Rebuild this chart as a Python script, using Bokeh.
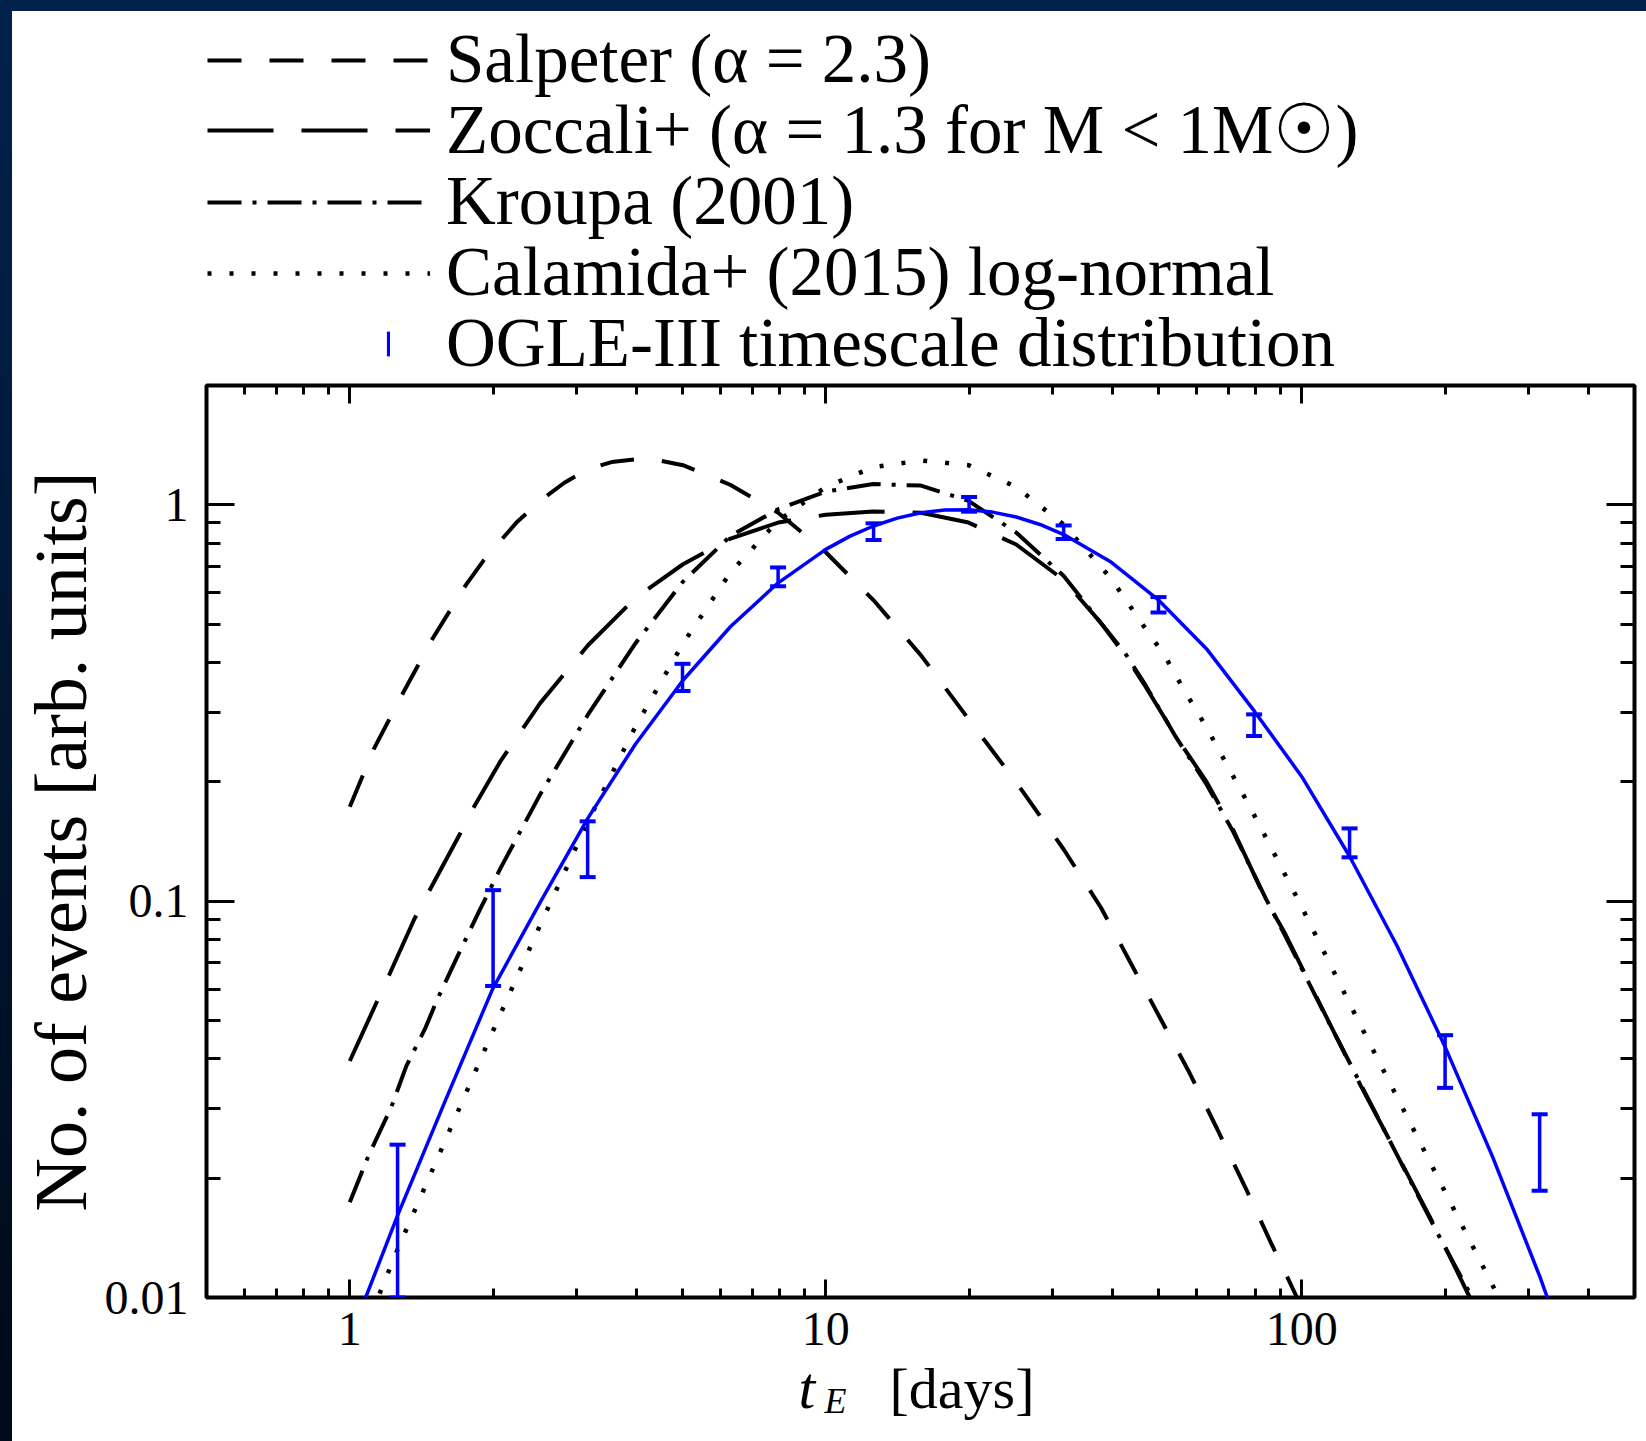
from bokeh.plotting import figure
from bokeh.models import (ColumnDataSource, Legend, LegendItem, LogAxis, FixedTicker,
                          PrintfTickFormatter, Label)
from bokeh.layouts import column
from bokeh.core.properties import value
from bokeh.embed import file_html
from bokeh.resources import INLINE

# ---------------- data ----------------
salp_t = [1.0, 1.122, 1.297, 1.493, 1.754, 1.914, 2.239, 2.512, 2.818, 3.162, 3.548, 3.981, 4.467,
          5.012, 6.31, 7.943, 10.0, 12.59, 15.85, 19.95, 25.12, 31.62, 37.84, 43.65, 50.35, 58.08,
          66.53, 76.03, 86.3, 97.7]
salp_v = [0.173, 0.2415, 0.337, 0.460, 0.628, 0.726, 0.902, 1.023, 1.135, 1.230, 1.282, 1.303, 1.294,
          1.259, 1.122, 0.955, 0.759, 0.575, 0.417, 0.288, 0.1995, 0.135, 0.0964, 0.0700, 0.0508,
          0.0369, 0.0265, 0.0190, 0.01368, 0.0100]

zocc_t = [1.0, 1.135, 1.211, 1.365, 1.469, 1.698, 1.824, 2.075, 2.512, 3.162, 3.981, 5.012, 6.31,
          7.943, 10.0, 12.59, 15.85, 19.95, 25.12, 31.62, 37.84, 42.56, 46.67, 54.33, 63.1, 71.78,
          84.14, 91.62, 112.2, 132.7, 158.5, 195.4, 225.4]
zocc_v = [0.0395, 0.0551, 0.0653, 0.0899, 0.1062, 0.1466, 0.173, 0.226, 0.316, 0.4416, 0.582, 0.708,
          0.822, 0.902, 0.944, 0.962, 0.955, 0.902, 0.794, 0.646, 0.5035, 0.417, 0.352, 0.261, 0.200,
          0.151, 0.1005, 0.0841, 0.0515, 0.0344, 0.0230, 0.01422, 0.0100]

krou_t = [1.0, 1.094, 1.222, 1.315, 1.442, 1.524, 1.673, 1.871, 2.075, 2.512, 3.162, 3.981, 5.012,
          6.31, 7.943, 10.0, 12.59, 15.85, 19.95, 25.12, 31.62, 37.84, 42.56, 46.67, 54.33, 63.1,
          71.78, 84.14, 91.62, 112.2, 132.7, 158.5, 195.4, 228.0]
krou_v = [0.01738, 0.02275, 0.0302, 0.0384, 0.0479, 0.0562, 0.0714, 0.0945, 0.1213, 0.186, 0.295,
          0.447, 0.640, 0.835, 0.975, 1.080, 1.128, 1.118, 1.023, 0.851, 0.661, 0.5035, 0.422, 0.355,
          0.260, 0.197, 0.1496, 0.1012, 0.0832, 0.0513, 0.0347, 0.0229, 0.0141, 0.0100]

cala_t = [1.155, 1.259, 1.585, 1.995, 2.512, 3.162, 3.981, 5.012, 6.31, 7.943, 10.0, 12.59, 15.85,
          19.95, 25.12, 31.62, 39.81, 47.86, 51.23, 56.62, 63.24, 69.9, 77.39, 85.62, 98.86, 114.0,
          131.5, 167.6, 213.3, 258.0]
cala_v = [0.01023, 0.01318, 0.0248, 0.0468, 0.0871, 0.1585, 0.2754, 0.4467, 0.676, 0.912, 1.109,
          1.245, 1.294, 1.259, 1.109, 0.891, 0.650, 0.471, 0.421, 0.3406, 0.2729, 0.2188, 0.175,
          0.1387, 0.0993, 0.0703, 0.0498, 0.0281, 0.01585, 0.01012]

fit_t = [1.08, 1.259, 1.585, 1.995, 2.512, 3.162, 3.981, 5.012, 6.31, 7.943, 10.0, 11.22, 12.59,
         14.13, 15.85, 17.78, 19.95, 22.39, 25.12, 28.18, 31.62, 39.81, 50.12, 63.1, 79.43, 100.0,
         125.9, 158.5, 199.5, 251.2, 316.2, 328.0]
fit_v = [0.0100, 0.01607, 0.03126, 0.0600, 0.0993, 0.1618, 0.2489, 0.3609, 0.4932, 0.6356, 0.7719,
         0.8325, 0.8841, 0.9256, 0.9546, 0.9701, 0.9716, 0.9585, 0.9317, 0.8921, 0.8415, 0.7160,
         0.5737, 0.4329, 0.3020, 0.2061, 0.1300, 0.0772, 0.0432, 0.02277, 0.0113, 0.0100]

ogle_t = [1.26, 2.0, 3.16, 5.0, 7.94, 12.6, 20.0, 31.6, 50.0, 79.4, 126, 200, 316]
ogle_lo = [0.0100, 0.0611, 0.115, 0.339, 0.623, 0.815, 0.961, 0.820, 0.535, 0.261, 0.129, 0.0338, 0.0186]
ogle_hi = [0.0243, 0.1066, 0.159, 0.397, 0.695, 0.898, 1.046, 0.887, 0.585, 0.296, 0.1526, 0.0459, 0.0290]

labels = ["Salpeter (\u03b1 = 2.3)",
          "Zoccali+ (\u03b1 = 1.3 for M < 1M\u2609)",
          "Kroupa (2001)",
          "Calamida+ (2015) log-normal",
          "OGLE-III timescale distribution"]

x_major = [1, 10, 100]
x_minor = [0.5, 0.6, 0.7, 0.8, 0.9, 2, 3, 4, 5, 6, 7, 8, 9, 20, 30, 40, 50, 60, 70, 80, 90,
           200, 300, 400, 500]
y_major = [0.01, 0.1, 1]
y_minor = [0.02, 0.03, 0.04, 0.05, 0.06, 0.07, 0.08, 0.09, 0.2, 0.3, 0.4, 0.5, 0.6, 0.7, 0.8, 0.9, 2]

SERIF = "Liberation Serif"
BLUE = "#0000ff"

STYLE_SALP = dict(line_color="black", line_width=4, line_dash="34 28")
STYLE_ZOCC = dict(line_color="black", line_width=4, line_dash="66 28")
STYLE_KROU = dict(line_color="black", line_width=4, line_dash="34 11 4 11")
STYLE_CALA = dict(line_color="black", line_width=4.5, line_dash="4 18")

LEFT_B, RIGHT_B, FRAME_W = 194, 12, 1428


def blank_strip(frame_height, margin, styles=None):
    # transparent strip sharing the horizontal layout of the main plot; its data ranges
    # keep the legend-only glyphs out of view
    f = figure(frame_width=FRAME_W, frame_height=frame_height, x_range=(-3, -2), y_range=(-3, -2),
               output_backend="svg", toolbar_location=None,
               min_border_left=LEFT_B, min_border_right=RIGHT_B, min_border_top=0,
               min_border_bottom=0, x_axis_location=None, y_axis_location=None, margin=margin,
               background_fill_alpha=0, border_fill_alpha=0, outline_line_color=None,
               styles=styles or {})
    f.grid.visible = False
    return f


# ---------------- legend strip (above the plot box) ----------------
leg_fig = blank_strip(370, (11, 0, 0, 12))
g_salp = leg_fig.line(salp_t, salp_v, **STYLE_SALP)
g_zocc = leg_fig.line(zocc_t, zocc_v, **STYLE_ZOCC)
g_krou = leg_fig.line(krou_t, krou_v, **STYLE_KROU)
g_cala = leg_fig.line(cala_t, cala_v, **STYLE_CALA)
g_ogle = leg_fig.rect(x=ogle_t, y=ogle_hi, width=4, height=31, width_units="screen",
                      height_units="screen", fill_color=BLUE, line_color=None)

leg_rows = [(labels[0], g_salp, 1, 282, 223, 20, 16),
            (labels[1], g_zocc, 1, 211, 223, 20, 16),
            (labels[2], g_krou, 1, 140, 223, 20, 16),
            (labels[3], g_cala, 1, 69, 223, 20, 16),
            (labels[4], g_ogle, 180, -2, 4, 31, 56)]
for text, rend, vx, vy, gw, gh, stand in leg_rows:
    leg_fig.add_layout(Legend(items=[LegendItem(label=value(text), renderers=[rend])],
                              location=(vx, vy), glyph_width=gw, glyph_height=gh,
                              label_standoff=stand, padding=0, margin=0, spacing=0,
                              border_line_color=None, background_fill_alpha=0,
                              label_text_font=SERIF, label_text_font_size="69px",
                              label_text_color="black", label_height=20))

# ---------------- main plot ----------------
fig = figure(frame_width=FRAME_W, frame_height=912, x_axis_type="log", y_axis_type="log",
             x_range=(0.5, 500), y_range=(0.01, 2), output_backend="svg", toolbar_location=None,
             min_border_left=LEFT_B, min_border_top=4, min_border_right=RIGHT_B,
             min_border_bottom=71, background_fill_color="white", border_fill_color="white",
             margin=(0, 0, 0, 12))
fig.grid.visible = False
fig.outline_line_color = "black"
fig.outline_line_width = 4

top_ax = LogAxis()
right_ax = LogAxis()
fig.add_layout(top_ax, "above")
fig.add_layout(right_ax, "right")
bottom_ax = fig.below[0]
left_ax = fig.left[0]

for ax in (bottom_ax, top_ax):
    ax.ticker = FixedTicker(ticks=x_major, minor_ticks=x_minor)
    ax.major_tick_in = 18
    ax.minor_tick_in = 9
for ax in (left_ax, right_ax):
    ax.ticker = FixedTicker(ticks=y_major, minor_ticks=y_minor)
    ax.major_tick_in = 28
    ax.minor_tick_in = 14
for ax in (bottom_ax, top_ax, left_ax, right_ax):
    ax.axis_line_color = None
    ax.major_tick_out = 0
    ax.minor_tick_out = 0
    ax.major_tick_line_width = 3
    ax.minor_tick_line_width = 3
    ax.major_tick_line_color = "black"
    ax.minor_tick_line_color = "black"
    ax.formatter = PrintfTickFormatter(format="%g")
    ax.major_label_text_font = SERIF
    ax.major_label_text_font_size = "48px"
    ax.major_label_text_color = "black"
for ax in (top_ax, right_ax):
    ax.major_label_text_color = None
    ax.major_label_text_font_size = "1px"
    ax.major_label_standoff = 0

bottom_ax.major_label_standoff = 15
left_ax.major_label_standoff = 18
left_ax.axis_label = "No. of events [arb. units]"
left_ax.axis_label_text_font = SERIF
left_ax.axis_label_text_font_style = "normal"
left_ax.axis_label_text_font_size = "74px"
left_ax.axis_label_text_color = "black"
left_ax.axis_label_standoff = 0

fig.line(salp_t, salp_v, **STYLE_SALP)
fig.line(zocc_t, zocc_v, **STYLE_ZOCC)
fig.line(krou_t, krou_v, **STYLE_KROU)
fig.line(cala_t, cala_v, **STYLE_CALA)
fig.line(fit_t, fit_v, line_color=BLUE, line_width=3.5)

src = ColumnDataSource(dict(t=ogle_t, lo=ogle_lo, hi=ogle_hi))
fig.segment(x0="t", y0="lo", x1="t", y1="hi", source=src, line_color=BLUE, line_width=3.5)
for col in ("lo", "hi"):
    fig.rect(x="t", y=col, width=16, height=4, width_units="screen", height_units="screen",
             source=src, fill_color=BLUE, line_color=None)

# ---------------- x-axis title strip: t_E [days] ----------------
bot_fig = blank_strip(73, (0, 0, 0, 12), styles={"position": "relative", "top": "-17px"})
bot_fig.add_layout(Label(x=592, y=37, x_units="screen", y_units="screen", text="t",
                         text_font=SERIF, text_font_style="italic", text_font_size="60px",
                         text_baseline="middle", text_color="black"))
bot_fig.add_layout(Label(x=618, y=24, x_units="screen", y_units="screen", text="E",
                         text_font=SERIF, text_font_style="italic", text_font_size="36px",
                         text_baseline="middle", text_color="black"))
bot_fig.add_layout(Label(x=683, y=36, x_units="screen", y_units="screen", text="[days]",
                         text_font=SERIF, text_font_size="58px",
                         text_baseline="middle", text_color="black"))

BG = ("linear-gradient(to bottom, #01224c, #000a18) left top / 12px 100% no-repeat, "
      "linear-gradient(#01224c, #01224c) left top / 100% 11px no-repeat, #ffffff")
page = column(leg_fig, fig, bot_fig, spacing=0, styles={"background": BG})

open("out.html", "w").write(file_html(page, INLINE))
